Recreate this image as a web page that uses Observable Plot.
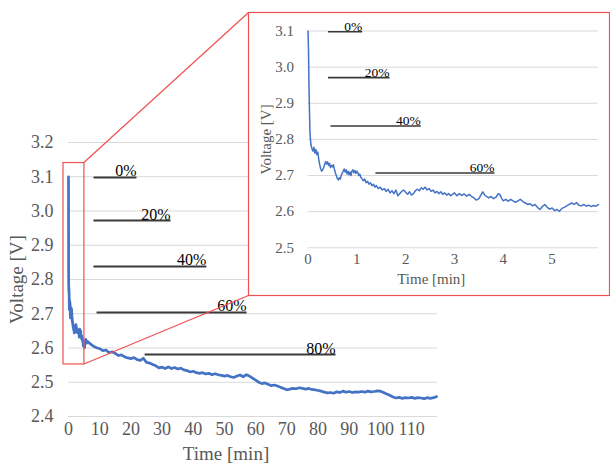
<!DOCTYPE html>
<html>
<head>
<meta charset="utf-8">
<script src="https://cdn.jsdelivr.net/npm/d3@7"></script>
<script src="https://cdn.jsdelivr.net/npm/@observablehq/plot@0.6"></script>
<style>
  html, body { margin: 0; padding: 0; background: #fff; }
  #wrap { position: relative; width: 610px; height: 464px; overflow: hidden; font-family: "Liberation Serif", "Times New Roman", serif; }
  #wrap svg { position: absolute; }
  #wrap svg, #wrap svg g, #wrap svg text { font-family: "Liberation Serif", "Times New Roman", serif !important; }
</style>
</head>
<body>
<div id="wrap"></div>
<script>
// ---- Data: discharge voltage curve (time in minutes, voltage in V) ----
const timeEarly = [0.00,0.01,0.02,0.03,0.04,0.05,0.06,0.08,0.10,0.12,0.14,0.16,0.18,0.20,0.22,0.24,0.26,0.28,0.30,0.32,0.34,0.36,0.38,0.40,0.42,0.44,0.46,0.48,0.50,0.52,0.54,0.56,0.58,0.60,0.62,0.64,0.66,0.68,0.70,0.72,0.74,0.76,0.78,0.80,0.82,0.84,0.86,0.88,0.90,0.92,0.94,0.96,0.98,1.00,1.02,1.04,1.06,1.08,1.10,1.13,1.16,1.19,1.22,1.25,1.28,1.31,1.34,1.37,1.40,1.44,1.48,1.52,1.56,1.60,1.64,1.68,1.72,1.76,1.80,1.84,1.88,1.92,1.96,2.00,2.04,2.08,2.12,2.16,2.20,2.24,2.28,2.32,2.36,2.40,2.44,2.48,2.52,2.56,2.60,2.64,2.68,2.72,2.76,2.80,2.84,2.88,2.92,2.96,3.00,3.05,3.10,3.15,3.20,3.25,3.30,3.35,3.40,3.45,3.50,3.55,3.58,3.62,3.66,3.70,3.75,3.80,3.85,3.90,3.93,3.97,4.00,4.05,4.10,4.15,4.20,4.25,4.30,4.35,4.40,4.45,4.50,4.55,4.60,4.65,4.70,4.75,4.80,4.85,4.90,4.95,5.00,5.05,5.10,5.15,5.20,5.25,5.30,5.35,5.40,5.45,5.50,5.55,5.60,5.65,5.70,5.75,5.80,5.85,5.90,5.95];
const voltEarly = [3.100,3.050,2.950,2.880,2.820,2.800,2.785,2.775,2.768,2.778,2.762,2.772,2.758,2.765,2.745,2.730,2.718,2.712,2.716,2.722,2.730,2.738,2.732,2.738,2.728,2.734,2.722,2.728,2.724,2.730,2.718,2.708,2.700,2.692,2.688,2.694,2.690,2.700,2.706,2.712,2.718,2.710,2.716,2.704,2.712,2.702,2.710,2.700,2.712,2.716,2.708,2.714,2.706,2.712,2.708,2.700,2.704,2.696,2.692,2.686,2.690,2.680,2.684,2.676,2.680,2.672,2.676,2.668,2.672,2.664,2.668,2.660,2.664,2.656,2.662,2.652,2.658,2.650,2.660,2.644,2.650,2.656,2.660,2.654,2.648,2.655,2.646,2.650,2.658,2.662,2.658,2.666,2.662,2.668,2.660,2.664,2.656,2.660,2.652,2.656,2.650,2.655,2.648,2.652,2.646,2.650,2.644,2.648,2.652,2.644,2.650,2.645,2.649,2.643,2.648,2.642,2.638,2.632,2.636,2.648,2.655,2.646,2.642,2.638,2.642,2.636,2.640,2.650,2.647,2.636,2.630,2.634,2.629,2.634,2.630,2.626,2.630,2.634,2.628,2.624,2.620,2.622,2.616,2.620,2.612,2.606,2.614,2.620,2.612,2.607,2.610,2.603,2.606,2.601,2.609,2.612,2.616,2.620,2.624,2.620,2.625,2.618,2.616,2.620,2.615,2.618,2.614,2.617,2.615,2.620];
const timeLate = [6,7,8,9,10,11,12,13,14,15,16,17,18,19,20,21,22,23,24,25,26,27,28,29,30,31,32,33,34,35,36,37,38,39,40,41,42,43,44,45,46,47,48,49,50,51,52,53,54,55,56,57,58,59,60,61,62,63,64,65,66,67,68,69,70,71,72,73,74,75,76,77,78,79,80,81,82,83,84,85,86,87,88,89,90,91,92,93,94,95,96,97,98,99,100,101,102,103,104,105,106,107,108,109,110,111,112,113,114,115,116,117,118];
const voltLate = [2.618,2.612,2.605,2.601,2.598,2.592,2.594,2.586,2.589,2.584,2.578,2.580,2.574,2.571,2.569,2.572,2.566,2.564,2.570,2.558,2.556,2.552,2.548,2.542,2.544,2.540,2.545,2.540,2.543,2.539,2.541,2.536,2.534,2.530,2.532,2.528,2.526,2.528,2.524,2.526,2.522,2.525,2.522,2.520,2.518,2.520,2.516,2.514,2.518,2.521,2.516,2.522,2.518,2.512,2.506,2.500,2.496,2.498,2.494,2.490,2.492,2.489,2.485,2.482,2.478,2.480,2.482,2.481,2.484,2.482,2.480,2.482,2.479,2.478,2.476,2.474,2.471,2.469,2.470,2.468,2.472,2.470,2.474,2.471,2.473,2.470,2.472,2.471,2.473,2.471,2.474,2.472,2.473,2.475,2.474,2.470,2.466,2.462,2.457,2.454,2.456,2.453,2.455,2.454,2.456,2.453,2.455,2.454,2.452,2.455,2.453,2.455,2.458];

// ---- State-of-charge annotation lines ----
const socLabels   = ["0%", "20%", "40%", "60%", "80%"];
const socMainFrom = [8.0, 8.0, 8.0, 9.0, 24.4];
const socMainTo   = [21.8, 32.7, 44.2, 57.1, 85.6];
const socMainV    = [3.098, 2.972, 2.838, 2.704, 2.581];
const socInsetFrom = [0.41, 0.41, 0.46, 1.38];
const socInsetTo   = [1.11, 1.67, 2.31, 3.82];
const socInsetV    = [3.098, 2.971, 2.837, 2.707];

// ---- Axes ----
const xTicksMain  = [0,10,20,30,40,50,60,70,80,90,100,110];
const yTicksMain  = [2.4,2.5,2.6,2.7,2.8,2.9,3.0,3.1,3.2];
const xTicksInset = [0,1,2,3,4,5];
const yTicksInset = [2.5,2.6,2.7,2.8,2.9,3.0,3.1];
const xDomainMain = [0, 118.3];
const yDomainMain = [2.4, 3.2];
const xDomainInset = [0, 5.95];
const yDomainInset = [2.5, 3.1];

// zoomed region marked on the main chart
const zoomX = [-1.6, 5.1];
const zoomY = [2.552, 3.14];

// ---- Build tables ----
const series = timeEarly.map((t, i) => ({t, v: voltEarly[i]}))
  .concat(timeLate.slice(1).map((t, i) => ({t, v: voltLate[i + 1]})));
const insetSeries = series.filter(d => d.t <= xDomainInset[1]);
const socMain = socMainV.map((v, i) => ({label: socLabels[i], x1: socMainFrom[i], x2: socMainTo[i], y: v}));
const socInset = socInsetV.map((v, i) => ({label: socLabels[i], x1: socInsetFrom[i], x2: socInsetTo[i], y: v}));

const FONT = "'Liberation Serif', 'Times New Roman', serif";
const GRAY = "#595959";
const BLUE = "#4472c4";
const RED = "#f05050";

const main = Plot.plot({
  width: 610, height: 464,
  marginLeft: 68, marginRight: 173, marginTop: 142, marginBottom: 48,
  style: {fontFamily: FONT, background: "transparent", overflow: "visible"},
  x: {domain: xDomainMain},
  y: {domain: yDomainMain},
  marks: [
    Plot.gridY(yTicksMain, {stroke: "#d9d9d9", strokeOpacity: 1}),
    Plot.axisY(yTicksMain, {tickSize: 0, tickPadding: 15, fontSize: 18, color: GRAY, tickFormat: d => d.toFixed(1), label: null}),
    Plot.axisX(xTicksMain, {tickSize: 0, tickPadding: 6, fontSize: 18, color: GRAY, label: null}),
    Plot.line(series, {x: "t", y: "v", stroke: BLUE, strokeWidth: 2.7}),
    Plot.rect([{}], {x1: () => zoomX[0], x2: () => zoomX[1], y1: () => zoomY[0], y2: () => zoomY[1], fill: "none", stroke: RED, strokeWidth: 1.2}),
    Plot.link(socMain, {x1: "x1", x2: "x2", y1: "y", y2: "y", stroke: "#3a3a3a", strokeWidth: 2}),
    Plot.text(socMain, {x: "x2", y: "y", text: "label", textAnchor: "end", lineAnchor: "bottom", dy: -1, fontSize: 16, fill: "#000"}),
    Plot.text(["Voltage [V]"], {frameAnchor: "left", rotate: -90, textAnchor: "middle", lineAnchor: "middle", dx: -52, fontSize: 19, fill: GRAY}),
    Plot.text(["Time [min]"], {frameAnchor: "bottom", textAnchor: "middle", lineAnchor: "middle", dx: -27, dy: 37, fontSize: 19, fill: GRAY})
  ]
});

// inset placement on the page
const INSET = {left: 248, top: 12, width: 361, height: 284};

const inset = Plot.plot({
  width: INSET.width, height: INSET.height,
  marginLeft: 59.5, marginRight: 11, marginTop: 18.5, marginBottom: 48.7,
  style: {fontFamily: FONT, background: "#fff", overflow: "visible"},
  x: {domain: xDomainInset},
  y: {domain: yDomainInset},
  marks: [
    Plot.gridY(yTicksInset, {stroke: "#d9d9d9", strokeOpacity: 1}),
    Plot.axisY(yTicksInset, {tickSize: 0, tickPadding: 14, fontSize: 15, color: GRAY, tickFormat: d => d.toFixed(1), label: null}),
    Plot.axisX(xTicksInset, {tickSize: 0, tickPadding: 6, fontSize: 15, color: GRAY, label: null}),
    Plot.line(insetSeries, {x: "t", y: "v", stroke: BLUE, strokeWidth: 1.5}),
    Plot.link(socInset, {x1: "x1", x2: "x2", y1: "y", y2: "y", stroke: "#3a3a3a", strokeWidth: 1.6}),
    Plot.text(socInset, {x: "x2", y: "y", text: "label", textAnchor: "end", lineAnchor: "bottom", dy: -1, fontSize: 13.5, fill: "#000"}),
    Plot.text(["Voltage [V]"], {frameAnchor: "left", rotate: -90, textAnchor: "middle", lineAnchor: "middle", dx: -42, fontSize: 15, fill: GRAY}),
    Plot.text(["Time [min]"], {frameAnchor: "bottom", textAnchor: "middle", lineAnchor: "middle", dx: -22, dy: 31, fontSize: 15, fill: GRAY})
  ]
});

const wrap = document.getElementById("wrap");
main.style.left = "0px"; main.style.top = "0px";
inset.style.left = INSET.left + "px"; inset.style.top = INSET.top + "px";
wrap.appendChild(main);
wrap.appendChild(inset);

// overlay: inset frame and connector lines from the zoom box to the inset
const sx = main.scale("x"), sy = main.scale("y");
const bx = sx.apply(zoomX[1]);
const byTop = sy.apply(zoomY[1]);
const byBot = sy.apply(zoomY[0]);
const overlay = d3.create("svg").attr("width", 610).attr("height", 464)
  .style("left", "0px").style("top", "0px").style("pointer-events", "none");
overlay.append("rect")
  .attr("x", INSET.left + 0.5).attr("y", INSET.top + 0.5)
  .attr("width", INSET.width).attr("height", INSET.height - 1)
  .attr("fill", "none").attr("stroke", RED).attr("stroke-width", 1.2);
overlay.append("line").attr("x1", bx).attr("y1", byTop).attr("x2", INSET.left + 0.5).attr("y2", INSET.top + 0.5)
  .attr("stroke", RED).attr("stroke-width", 1.2);
overlay.append("line").attr("x1", bx).attr("y1", byBot).attr("x2", INSET.left + 0.5).attr("y2", INSET.top + INSET.height - 0.5)
  .attr("stroke", RED).attr("stroke-width", 1.2);
wrap.appendChild(overlay.node());
</script>
</body>
</html>
